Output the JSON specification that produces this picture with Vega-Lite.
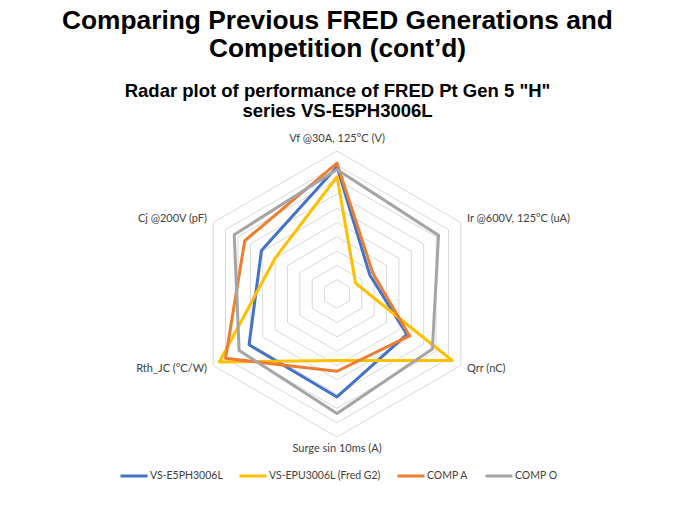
{
  "$schema": "https://vega.github.io/schema/vega-lite/v6.json",
  "width": 675,
  "height": 376,
  "autosize": "none",
  "padding": {"top": 130, "left": 0, "right": 0, "bottom": 0},
  "background": "white",
  "view": {"stroke": null},
  "title": {
    "text": ["Comparing Previous FRED Generations and", "Competition (cont’d)"],
    "subtitle": ["Radar plot of performance of FRED Pt Gen 5 \"H\"", "series VS-E5PH3006L"],
    "anchor": "middle",
    "frame": "group",
    "font": "Liberation Sans",
    "fontSize": 26.3,
    "fontWeight": "bold",
    "color": "black",
    "lineHeight": 28,
    "subtitleFont": "Liberation Sans",
    "subtitleFontSize": 18.5,
    "subtitleFontWeight": "bold",
    "subtitleColor": "black",
    "subtitleLineHeight": 20,
    "subtitlePadding": 19,
    "offset": 10
  },
  "datasets": {
    "perf": [
      {"series": "VS-E5PH3006L", "axis": "Vf @30A, 125°C (V)", "idx": 0, "value": 8.9},
      {"series": "VS-E5PH3006L", "axis": "Ir @600V, 125°C (uA)", "idx": 1, "value": 2.65},
      {"series": "VS-E5PH3006L", "axis": "Qrr (nC)", "idx": 2, "value": 5.65},
      {"series": "VS-E5PH3006L", "axis": "Surge sin 10ms (A)", "idx": 3, "value": 7.2},
      {"series": "VS-E5PH3006L", "axis": "Rth_JC (°C/W)", "idx": 4, "value": 7.1},
      {"series": "VS-E5PH3006L", "axis": "Cj @200V (pF)", "idx": 5, "value": 6.1},
      {"series": "VS-EPU3006L (Fred G2)", "axis": "Vf @30A, 125°C (V)", "idx": 0, "value": 8.2},
      {"series": "VS-EPU3006L (Fred G2)", "axis": "Ir @600V, 125°C (uA)", "idx": 1, "value": 1.5},
      {"series": "VS-EPU3006L (Fred G2)", "axis": "Qrr (nC)", "idx": 2, "value": 9.3},
      {"series": "VS-EPU3006L (Fred G2)", "axis": "Surge sin 10ms (A)", "idx": 3, "value": 4.65},
      {"series": "VS-EPU3006L (Fred G2)", "axis": "Rth_JC (°C/W)", "idx": 4, "value": 9.5},
      {"series": "VS-EPU3006L (Fred G2)", "axis": "Cj @200V (pF)", "idx": 5, "value": 5.0},
      {"series": "COMP A", "axis": "Vf @30A, 125°C (V)", "idx": 0, "value": 9.15},
      {"series": "COMP A", "axis": "Ir @600V, 125°C (uA)", "idx": 1, "value": 2.9},
      {"series": "COMP A", "axis": "Qrr (nC)", "idx": 2, "value": 5.85},
      {"series": "COMP A", "axis": "Surge sin 10ms (A)", "idx": 3, "value": 5.4},
      {"series": "COMP A", "axis": "Rth_JC (°C/W)", "idx": 4, "value": 9.0},
      {"series": "COMP A", "axis": "Cj @200V (pF)", "idx": 5, "value": 7.45},
      {"series": "COMP O", "axis": "Vf @30A, 125°C (V)", "idx": 0, "value": 8.7},
      {"series": "COMP O", "axis": "Ir @600V, 125°C (uA)", "idx": 1, "value": 8.2},
      {"series": "COMP O", "axis": "Qrr (nC)", "idx": 2, "value": 7.7},
      {"series": "COMP O", "axis": "Surge sin 10ms (A)", "idx": 3, "value": 8.35},
      {"series": "COMP O", "axis": "Rth_JC (°C/W)", "idx": 4, "value": 7.9},
      {"series": "COMP O", "axis": "Cj @200V (pF)", "idx": 5, "value": 8.3}
    ],
    "axes": [
      {"axis": "Vf @30A, 125°C (V)", "idx": 0},
      {"axis": "Ir @600V, 125°C (uA)", "idx": 1},
      {"axis": "Qrr (nC)", "idx": 2},
      {"axis": "Surge sin 10ms (A)", "idx": 3},
      {"axis": "Rth_JC (°C/W)", "idx": 4},
      {"axis": "Cj @200V (pF)", "idx": 5}
    ],
    "rings": [
      {"ring": 1, "idx": [0, 1, 2, 3, 4, 5]},
      {"ring": 2, "idx": [0, 1, 2, 3, 4, 5]},
      {"ring": 3, "idx": [0, 1, 2, 3, 4, 5]},
      {"ring": 4, "idx": [0, 1, 2, 3, 4, 5]},
      {"ring": 5, "idx": [0, 1, 2, 3, 4, 5]},
      {"ring": 6, "idx": [0, 1, 2, 3, 4, 5]},
      {"ring": 7, "idx": [0, 1, 2, 3, 4, 5]},
      {"ring": 8, "idx": [0, 1, 2, 3, 4, 5]},
      {"ring": 9, "idx": [0, 1, 2, 3, 4, 5]},
      {"ring": 10, "idx": [0, 1, 2, 3, 4, 5]}
    ]
  },
  "encoding": {
    "x": {"field": "x", "type": "quantitative", "scale": {"domain": [-23.566, 23.636], "nice": false, "zero": false}, "axis": null},
    "y": {"field": "y", "type": "quantitative", "scale": {"domain": [-14.825, 11.469], "nice": false, "zero": false}, "axis": null}
  },
  "layer": [
    {
      "data": {"name": "rings"},
      "transform": [
        {"flatten": ["idx"]},
        {"calculate": "PI/2 - datum.idx*PI/3", "as": "theta"},
        {"calculate": "datum.ring*cos(datum.theta)", "as": "x"},
        {"calculate": "datum.ring*sin(datum.theta)", "as": "y"}
      ],
      "mark": {"type": "line", "interpolate": "linear-closed", "color": "#d9d9d9", "strokeWidth": 1},
      "encoding": {
        "detail": {"field": "ring", "type": "nominal"},
        "order": {"field": "idx", "type": "quantitative"}
      }
    },
    {
      "data": {"name": "perf"},
      "transform": [
        {"calculate": "PI/2 - datum.idx*PI/3", "as": "theta"},
        {"calculate": "datum.value*cos(datum.theta)", "as": "x"},
        {"calculate": "datum.value*sin(datum.theta)", "as": "y"}
      ],
      "mark": {"type": "line", "interpolate": "linear-closed", "strokeWidth": 3, "strokeJoin": "round"},
      "encoding": {
        "color": {
          "field": "series",
          "type": "nominal",
          "scale": {
            "domain": ["VS-E5PH3006L", "VS-EPU3006L (Fred G2)", "COMP A", "COMP O"],
            "range": ["#4472C4", "#FFC000", "#ED7D31", "#A5A5A5"]
          },
          "legend": {
            "orient": "none",
            "legendX": 119,
            "legendY": 331,
            "direction": "horizontal",
            "columns": 4,
            "title": null,
            "padding": 0,
            "symbolType": "stroke",
            "symbolStrokeWidth": 3,
            "symbolSize": 729,
            "labelFont": "Lato",
            "labelFontSize": 10.5,
            "labelColor": "#404040",
            "labelOffset": 1,
            "columnPadding": 10
          }
        },
        "order": {"field": "idx", "type": "quantitative"}
      }
    },
    {
      "data": {"name": "axes"},
      "transform": [
        {"filter": "datum.idx == 0 || datum.idx == 3"},
        {"calculate": "PI/2 - datum.idx*PI/3", "as": "theta"},
        {"calculate": "10.85*cos(datum.theta)", "as": "x"},
        {"calculate": "10.85*sin(datum.theta)", "as": "y"}
      ],
      "mark": {"type": "text", "align": "center", "baseline": "middle", "font": "Lato", "fontSize": 11, "color": "#404040"},
      "encoding": {"text": {"field": "axis"}}
    },
    {
      "data": {"name": "axes"},
      "transform": [
        {"filter": "datum.idx == 1 || datum.idx == 2"},
        {"calculate": "PI/2 - datum.idx*PI/3", "as": "theta"},
        {"calculate": "10.5*cos(datum.theta)", "as": "x"},
        {"calculate": "10.5*sin(datum.theta)", "as": "y"}
      ],
      "mark": {"type": "text", "align": "left", "baseline": "middle", "font": "Lato", "fontSize": 11, "color": "#404040"},
      "encoding": {"text": {"field": "axis"}}
    },
    {
      "data": {"name": "axes"},
      "transform": [
        {"filter": "datum.idx == 4 || datum.idx == 5"},
        {"calculate": "PI/2 - datum.idx*PI/3", "as": "theta"},
        {"calculate": "10.5*cos(datum.theta)", "as": "x"},
        {"calculate": "10.5*sin(datum.theta)", "as": "y"}
      ],
      "mark": {"type": "text", "align": "right", "baseline": "middle", "font": "Lato", "fontSize": 11, "color": "#404040"},
      "encoding": {"text": {"field": "axis"}}
    }
  ]
}
